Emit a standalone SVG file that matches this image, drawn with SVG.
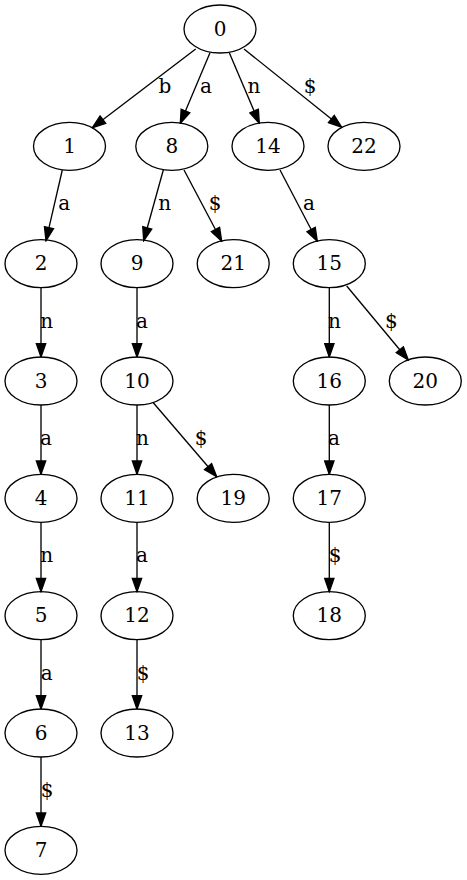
<svg xmlns="http://www.w3.org/2000/svg" width="467" height="880" viewBox="0 0 467 880">
<style>
.n ellipse{fill:none;stroke:#000;stroke-width:1.33}
.n text{font-family:"DejaVu Serif",serif;font-size:20px;text-anchor:middle;fill:#000}
#edges line{stroke:#000;stroke-width:1.33;marker-end:url(#ah)}
#edges text{font-family:"DejaVu Serif",serif;font-size:20px;text-anchor:middle;fill:#000}
</style>
<defs>
<marker id="ah" markerUnits="userSpaceOnUse" viewBox="-1 -1 15.33 11.33" refX="13.33" refY="4.67" markerWidth="15.33" markerHeight="11.33" orient="auto">
<path d="M0,0 L13.33,4.67 L0,9.33 z" fill="#000" stroke="#000" stroke-width="1.33"/>
</marker>
</defs>
<rect width="467" height="880" fill="#fff"/>
<g id="edges">
<line x1="195.7" y1="49" x2="92.3" y2="127.7"/><text x="165" y="93">b</text>
<line x1="210" y1="52.7" x2="180.3" y2="123.3"/><text x="206" y="93">a</text>
<line x1="229.3" y1="52.7" x2="259.3" y2="123.3"/><text x="254" y="93">n</text>
<line x1="244" y1="49" x2="341.7" y2="127.3"/><text x="310" y="93">$</text>
<line x1="62.3" y1="170" x2="46" y2="240.7"/><text x="64.3" y="210">a</text>
<line x1="163.3" y1="170" x2="143.7" y2="240.7"/><text x="164.7" y="210">n</text>
<line x1="184" y1="170" x2="221.7" y2="241.3"/><text x="215" y="210">$</text>
<line x1="280" y1="170" x2="317.3" y2="241.3"/><text x="309" y="210">a</text>
<line x1="41" y1="287.7" x2="41" y2="357"/><text x="46.7" y="327.7">n</text>
<line x1="137" y1="287.7" x2="137" y2="357"/><text x="142" y="327.7">a</text>
<line x1="329.3" y1="287.7" x2="329.3" y2="357"/><text x="334.5" y="327.7">n</text>
<line x1="346.7" y1="286" x2="408.3" y2="360"/><text x="391.3" y="327.7">$</text>
<line x1="41" y1="405" x2="41" y2="474.3"/><text x="46" y="445">a</text>
<line x1="137" y1="405" x2="137" y2="474.3"/><text x="142.5" y="445">n</text>
<line x1="153.3" y1="402.7" x2="216.7" y2="476.7"/><text x="201" y="445">$</text>
<line x1="329.3" y1="405" x2="329.3" y2="474.3"/><text x="334" y="445">a</text>
<line x1="41" y1="522.3" x2="41" y2="591.7"/><text x="46.7" y="562.3">n</text>
<line x1="137" y1="522.3" x2="137" y2="591.7"/><text x="142" y="562.3">a</text>
<line x1="329.3" y1="522.3" x2="329.3" y2="591.7"/><text x="335" y="562.3">$</text>
<line x1="41" y1="639.7" x2="41" y2="709"/><text x="46.7" y="680">a</text>
<line x1="137" y1="639.7" x2="137" y2="709"/><text x="143" y="680">$</text>
<line x1="41" y1="757" x2="41" y2="826.3"/><text x="47" y="796.7">$</text>
</g>
<g id="n0" class="n"><ellipse cx="220" cy="29" rx="36" ry="24"/><text x="220" y="35.7">0</text></g>
<g id="n1" class="n"><ellipse cx="69.5" cy="146.3" rx="36" ry="24"/><text x="69.5" y="153">1</text></g>
<g id="n8" class="n"><ellipse cx="171.8" cy="146.3" rx="36" ry="24"/><text x="171.8" y="153">8</text></g>
<g id="n14" class="n"><ellipse cx="268" cy="146.3" rx="36" ry="24"/><text x="268" y="153">14</text></g>
<g id="n22" class="n"><ellipse cx="364" cy="146.3" rx="36" ry="24"/><text x="364" y="153">22</text></g>
<g id="n2" class="n"><ellipse cx="41" cy="263.7" rx="36" ry="24"/><text x="41" y="270.4">2</text></g>
<g id="n9" class="n"><ellipse cx="137" cy="263.7" rx="36" ry="24"/><text x="137" y="270.4">9</text></g>
<g id="n21" class="n"><ellipse cx="233.2" cy="263.7" rx="36" ry="24"/><text x="233.2" y="270.4">21</text></g>
<g id="n15" class="n"><ellipse cx="329.3" cy="263.7" rx="36" ry="24"/><text x="329.3" y="270.4">15</text></g>
<g id="n3" class="n"><ellipse cx="41" cy="381" rx="36" ry="24"/><text x="41" y="387.7">3</text></g>
<g id="n10" class="n"><ellipse cx="137" cy="381" rx="36" ry="24"/><text x="137" y="387.7">10</text></g>
<g id="n16" class="n"><ellipse cx="329.3" cy="381" rx="36" ry="24"/><text x="329.3" y="387.7">16</text></g>
<g id="n20" class="n"><ellipse cx="425.3" cy="381" rx="36" ry="24"/><text x="425.3" y="387.7">20</text></g>
<g id="n4" class="n"><ellipse cx="41" cy="498.3" rx="36" ry="24"/><text x="41" y="505">4</text></g>
<g id="n11" class="n"><ellipse cx="137" cy="498.3" rx="36" ry="24"/><text x="137" y="505">11</text></g>
<g id="n19" class="n"><ellipse cx="233.2" cy="498.3" rx="36" ry="24"/><text x="233.2" y="505">19</text></g>
<g id="n17" class="n"><ellipse cx="329.3" cy="498.3" rx="36" ry="24"/><text x="329.3" y="505">17</text></g>
<g id="n5" class="n"><ellipse cx="41" cy="615.7" rx="36" ry="24"/><text x="41" y="622.4">5</text></g>
<g id="n12" class="n"><ellipse cx="137" cy="615.7" rx="36" ry="24"/><text x="137" y="622.4">12</text></g>
<g id="n18" class="n"><ellipse cx="329.3" cy="615.7" rx="36" ry="24"/><text x="329.3" y="622.4">18</text></g>
<g id="n6" class="n"><ellipse cx="41" cy="733" rx="36" ry="24"/><text x="41" y="739.7">6</text></g>
<g id="n13" class="n"><ellipse cx="137" cy="733" rx="36" ry="24"/><text x="137" y="739.7">13</text></g>
<g id="n7" class="n"><ellipse cx="41" cy="850.3" rx="36" ry="24"/><text x="41" y="857">7</text></g>
</svg>
